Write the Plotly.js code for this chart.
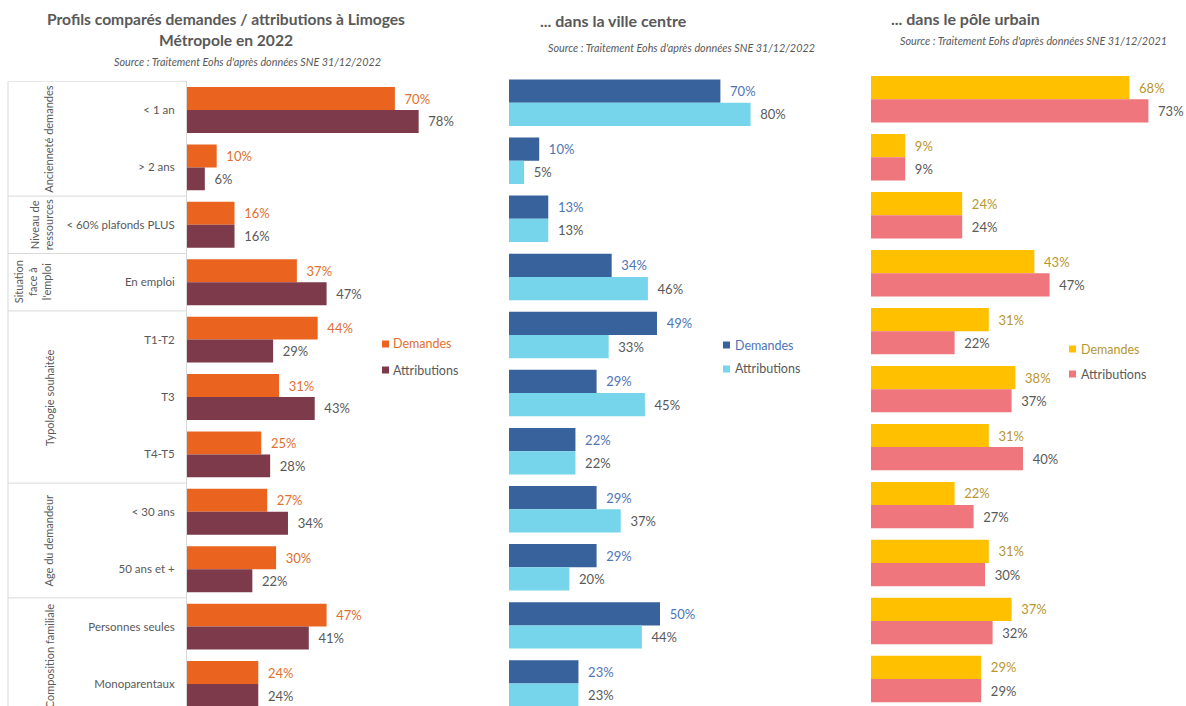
<!DOCTYPE html>
<html>
<head>
<meta charset="utf-8">
<script src="https://cdn.plot.ly/plotly-3.0.1.min.js"></script>
<style>html,body{margin:0;padding:0;background:#fff}#chart{width:1186px;height:706px}</style>
</head>
<body>
<div id="chart"></div>
<script>
// ---- data ----
var categories = ["< 1 an", "> 2 ans", "< 60% plafonds PLUS", "En emploi", "T1-T2", "T3", "T4-T5", "< 30 ans", "50 ans et +", "Personnes seules", "Monoparentaux"];
var groupNames = ["Ancienneté demandes", "Niveau de<br>ressources", "Situation<br>face à<br>l'emploi", "Typologie souhaitée", "Age du demandeur", "Composition familiale"];
var groupSizes = [2, 1, 1, 3, 2, 2];
var seriesNames = ["Demandes", "Attributions"];

var metroDemandes     = [70, 10, 16, 37, 44, 31, 25, 27, 30, 47, 24];
var metroAttributions = [78, 6, 16, 47, 29, 43, 28, 34, 22, 41, 24];

var villeDemandes     = [70, 10, 13, 34, 49, 29, 22, 29, 29, 50, 23];
var villeAttributions = [80, 5, 13, 46, 33, 45, 22, 37, 20, 44, 23];

var poleDemandes      = [68, 9, 24, 43, 31, 38, 31, 22, 31, 37, 29];
var poleAttributions  = [73, 9, 24, 47, 22, 37, 40, 27, 30, 32, 29];

// ---- helpers ----
var W = 1186, H = 706;
function X(px){ return px / W; }
function Y(py){ return 1 - py / H; }
var FONT = "Lato, 'Open Sans', sans-serif";
var GRAY = "#595959";

function pair(d, a, xa, ya, cD, cA, labD){
  var common = {type:'bar', orientation:'h', y: categories, textposition:'outside',
    cliponaxis:false, constraintext:'none', hoverinfo:'x+y', xaxis:xa, yaxis:ya, showlegend:false,
    texttemplate:'\u00a0\u00a0%{x}%'};
  return [
    Object.assign({}, common, {x: d, name:seriesNames[0],
      marker:{color:cD}, textfont:{family:FONT, size:13, color:labD}}),
    Object.assign({}, common, {x: a, name:seriesNames[1],
      marker:{color:cA}, textfont:{family:FONT, size:13, color:GRAY}})
  ];
}

var C1 = ['#EA6420', '#7C3A4B', '#E0702F'];
var C2 = ['#37629C', '#76D5EA', '#4F74B6'];
var C3 = ['#FFC000', '#EE767C', '#B8962E'];

var data = [].concat(
  pair(metroDemandes, metroAttributions, 'x', 'y', C1[0], C1[1], C1[2]),
  pair(villeDemandes, villeAttributions, 'x2', 'y2', C2[0], C2[1], C2[2]),
  pair(poleDemandes, poleAttributions, 'x3', 'y3', C3[0], C3[1], C3[2])
);

var hiddenX = {showgrid:false, zeroline:false, showticklabels:false, showline:false, ticks:'', fixedrange:true};
function yax(top, bottomVal, extra){
  return Object.assign({type:'category', categoryarray:categories, categoryorder:'array',
    domain:[0, Y(top)], range:[bottomVal, -0.5], showgrid:false, zeroline:false, ticks:'',
    showticklabels:false, showline:false, fixedrange:true}, extra||{});
}

// group separators & labels
var shapes = [], annotations = [];
var lineColor = '#D9D9D9';
var start = 0;
shapes.push({type:'line', xref:'paper', yref:'y', x0:X(8), x1:X(187), y0:-0.5, y1:-0.5, line:{color:lineColor, width:1}});
shapes.push({type:'line', xref:'paper', yref:'y', x0:X(8), x1:X(8), y0:-0.5, y1:10.383, line:{color:lineColor, width:1}});
var labelX = [49, 41.5, 33, 49, 49, 49];
groupSizes.forEach(function(n, i){
  var mid = start + (n - 1) / 2;
  annotations.push({xref:'paper', yref:'y', x:X(labelX[i]), y:mid, text:groupNames[i], textangle:-90,
    showarrow:false, xanchor:'center', yanchor:'middle', font:{family:FONT, size:11, color:GRAY}});
  start += n;
  if (i < groupSizes.length - 1) {
    shapes.push({type:'line', xref:'paper', yref:'y', x0:X(8), x1:X(187), y0:start - 0.5, y1:start - 0.5, line:{color:lineColor, width:1}});
  }
});

// titles
function ann(px, py, text, size, bold, italic){
  annotations.push({xref:'paper', yref:'paper', x:X(px), y:Y(py), text:text, showarrow:false,
    xanchor:'center', yanchor:'middle', align:'center',
    font:{family:FONT, size:size, color:GRAY, weight: bold ? 'bold' : 'normal', style: italic ? 'italic' : 'normal'}});
}
ann(226, 19, "Profils comparés demandes / attributions à Limoges", 15.6, true);
ann(226, 40, "Métropole en 2022", 15.6, true);
ann(247, 61, "Source : Traitement Eohs d'après données SNE 31/12/2022", 10.8, false, true);
ann(613, 20, "... dans la ville centre", 16, true);
ann(681, 47, "Source : Traitement Eohs d'après données SNE 31/12/2022", 10.8, false, true);
ann(965, 19, "... dans le pôle urbain", 16, true);
ann(1033, 40, "Source : Traitement Eohs d'après données SNE 31/12/2021", 10.8, false, true);

// legends (one per panel)
function legend(sqX, textX, ys, colors){
  seriesNames.forEach(function(nm, i){
    var cy = ys[i];
    shapes.push({type:'rect', xref:'paper', yref:'paper', x0:X(sqX), x1:X(sqX+7), y0:Y(cy-3.5), y1:Y(cy+3.5),
      fillcolor:colors[i], line:{width:0}});
    annotations.push({xref:'paper', yref:'paper', x:X(textX), y:Y(cy), text:nm, showarrow:false,
      xanchor:'left', yanchor:'middle', font:{family:FONT, size:12.5, color: i === 0 ? colors[2] : GRAY}});
  });
}
legend(382, 391, [344, 370], C1);
legend(723, 733, [345, 369], C2);
legend(1069, 1079, [349, 374], C3);

var layout = {
  width:W, height:H, margin:{l:0, r:0, t:0, b:0},
  paper_bgcolor:'#fff', plot_bgcolor:'rgba(0,0,0,0)',
  barmode:'group', bargap:0.2, bargroupgap:0,
  showlegend:false,
  xaxis: Object.assign({domain:[X(187), X(187 + 2.97*90)], range:[0, 90], anchor:'y'}, hiddenX),
  xaxis2: Object.assign({domain:[X(509), X(509 + 3.02*90)], range:[0, 90], anchor:'y2'}, hiddenX),
  xaxis3: Object.assign({domain:[X(871), X(871 + 3.8*80)], range:[0, 80], anchor:'y3'}, hiddenX),
  yaxis: yax(81.3, 10.383, {showticklabels:true, showline:true, linecolor:lineColor, linewidth:1,
    ticklabelstandoff:9, tickfont:{family:FONT, size:11.5, color:GRAY}, anchor:'x'}),
  yaxis2: yax(73.66, 10.388, {anchor:'x2'}),
  yaxis3: yax(70.3, 10.466, {anchor:'x3'}),
  shapes: shapes,
  annotations: annotations
};

Plotly.newPlot('chart', data, layout, {displayModeBar:false, staticPlot:true});
</script>
</body>
</html>
